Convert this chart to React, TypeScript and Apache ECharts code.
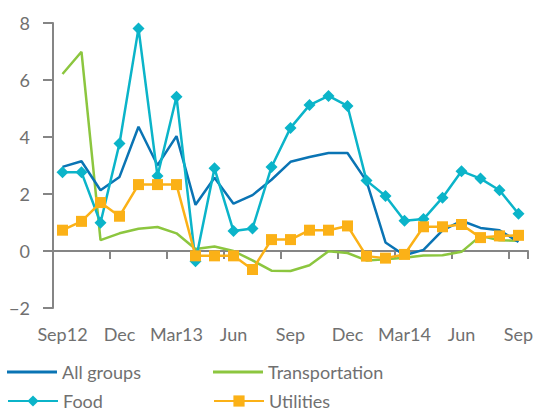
import React, { useEffect, useRef } from "react";
import * as echarts from "echarts";

const categories = [
  "Sep12", "Oct", "Nov", "Dec", "Jan13", "Feb", "Mar13", "Apr", "May", "Jun", "Jul", "Aug",
  "Sep", "Oct", "Nov", "Dec", "Jan14", "Feb", "Mar14", "Apr", "May", "Jun", "Jul", "Aug", "Sep",
];
const labelShown = [0, 3, 6, 9, 12, 15, 18, 21, 24];

const allGroups = [2.95, 3.15, 2.13, 2.6, 4.36, 3.01, 4.03, 1.62, 2.57, 1.66, 1.96, 2.5, 3.13, 3.3, 3.44, 3.44, 2.45, 0.3, -0.15, 0.04, 0.72, 1.06, 0.81, 0.73, 0.32];
const food = [2.76, 2.76, 0.99, 3.77, 7.81, 2.63, 5.41, -0.36, 2.9, 0.7, 0.79, 2.95, 4.32, 5.12, 5.44, 5.09, 2.47, 1.93, 1.06, 1.12, 1.87, 2.8, 2.54, 2.13, 1.31];
const transportation = [6.21, 6.99, 0.38, 0.62, 0.78, 0.84, 0.62, 0.07, 0.16, 0.0, -0.33, -0.69, -0.7, -0.5, -0.01, -0.07, -0.33, -0.29, -0.24, -0.16, -0.15, -0.03, 0.53, 0.38, 0.36];
const utilities = [0.73, 1.04, 1.7, 1.22, 2.33, 2.33, 2.33, -0.17, -0.17, -0.17, -0.65, 0.4, 0.4, 0.73, 0.73, 0.88, -0.18, -0.25, -0.12, 0.85, 0.85, 0.93, 0.47, 0.53, 0.55];

const C_ALL = "#0a74b4";
const C_FOOD = "#0bb4c9";
const C_TRANS = "#8cc63f";
const C_UTIL = "#fbb117";
const AXIS = "#858585";
const TEXT = "#707070";
const FONT = "Lato";

export default function App() {
  const ref = useRef<HTMLDivElement>(null);
  useEffect(() => {
    if (!ref.current) return;
    const chart = echarts.init(ref.current, undefined, { renderer: "svg" });
    const legendBase = {
      orient: "horizontal" as const,
      padding: 0,
      itemWidth: 50,
      itemHeight: 14,
      textStyle: { color: TEXT, fontSize: 18, fontFamily: FONT },
    };
    const lineLegend = {
      ...legendBase,
      itemHeight: 3,
    };
    chart.setOption({
      animation: false,
      grid: { left: 53, right: 12, top: 23, bottom: 103, containLabel: false },
      legend: [
        { ...lineLegend, left: 7, top: 363, data: [{ name: "All groups", icon: "rect" }] },
        { ...lineLegend, left: 213, top: 363, data: [{ name: "Transportation", icon: "rect" }] },
        { ...legendBase, left: 7, top: 392, data: ["Food"] },
        { ...legendBase, left: 213, top: 392, data: ["Utilities"] },
      ],
      xAxis: [
        {
          type: "category",
          data: categories,
          position: "bottom",
          boundaryGap: true,
          axisLine: { show: true, onZero: true, lineStyle: { color: AXIS, width: 2 } },
          axisTick: { show: true, interval: 2, alignWithLabel: false, length: 8, lineStyle: { color: AXIS, width: 2 } },
          axisLabel: { show: false, interval: 2 },
          splitLine: { show: false },
        },
        {
          type: "category",
          data: categories,
          position: "bottom",
          boundaryGap: true,
          axisLine: { show: false, onZero: false },
          axisTick: { show: false },
          axisLabel: {
            show: true,
            interval: (i: number) => labelShown.includes(i),
            margin: 17,
            color: TEXT,
            fontSize: 18,
            fontFamily: FONT,
          },
          splitLine: { show: false },
        },
      ],
      yAxis: {
        type: "value",
        min: -2,
        max: 8,
        interval: 2,
        axisLine: { show: true, lineStyle: { color: AXIS, width: 2 } },
        axisTick: { show: true, length: 10, lineStyle: { color: AXIS, width: 2 } },
        axisLabel: {
          margin: 23,
          color: TEXT,
          fontSize: 18,
          fontFamily: FONT,
          formatter: (v: number) => String(v).replace("-", "\u2212"),
        },
        splitLine: { show: false },
      },
      series: [
        {
          name: "Transportation",
          type: "line",
          data: transportation,
          symbol: "none",
          z: 2,
          lineStyle: { color: C_TRANS, width: 2.5 },
          itemStyle: { color: C_TRANS },
        },
        {
          name: "All groups",
          type: "line",
          data: allGroups,
          symbol: "none",
          z: 3,
          lineStyle: { color: C_ALL, width: 2.5 },
          itemStyle: { color: C_ALL },
        },
        {
          name: "Food",
          type: "line",
          data: food,
          symbol: "diamond",
          symbolSize: 12,
          showAllSymbol: true,
          z: 4,
          lineStyle: { color: C_FOOD, width: 2.5 },
          itemStyle: { color: C_FOOD },
        },
        {
          name: "Utilities",
          type: "line",
          data: utilities,
          symbol: "rect",
          symbolSize: 11,
          showAllSymbol: true,
          z: 5,
          lineStyle: { color: C_UTIL, width: 2.5 },
          itemStyle: { color: C_UTIL },
        },
      ],
    });
    return () => chart.dispose();
  }, []);
  return <div ref={ref} style={{ width: 540, height: 411, position: "absolute", left: 0, top: 0 }} />;
}
